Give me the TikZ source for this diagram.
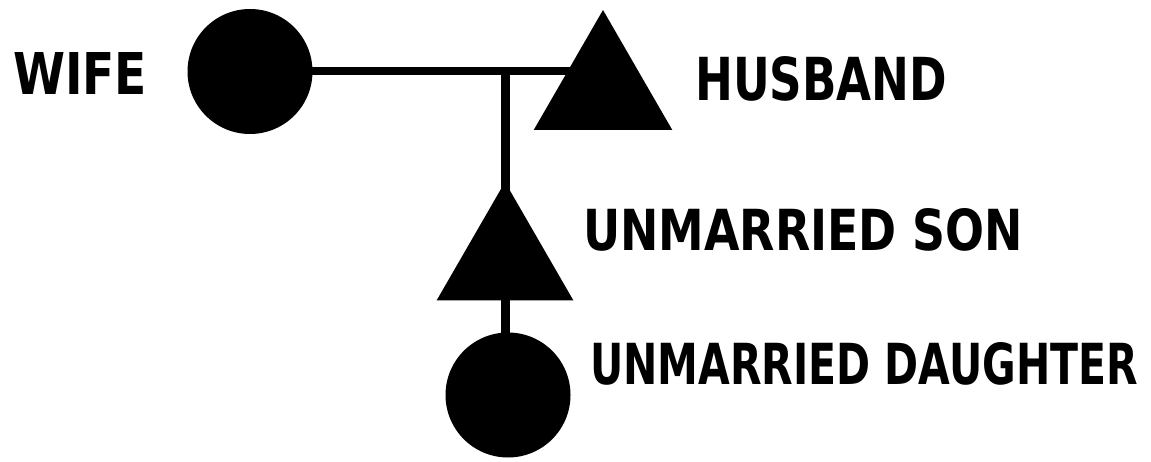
\documentclass[tikz,border=0pt]{standalone}
\usepackage{fontspec}
\usepackage{graphicx}
\setmainfont{DejaVu Sans}
\usetikzlibrary{shapes.geometric}
\tikzset{
  female/.style={circle, fill=black, inner sep=0pt, minimum size=125pt},
  male/.style={regular polygon, regular polygon sides=3, fill=black, inner sep=0pt, minimum size=#1},
  tie/.style={draw=black, line width=#1},
  lbl/.style={anchor=south west, inner sep=0pt, font=\bfseries},
}
\newcommand{\lab}[3]{\resizebox{#1pt}{#2pt}{#3}}
\begin{document}
\begin{tikzpicture}[x=1pt, y=-1pt]
  \useasboundingbox[fill=white] (0,0) rectangle (1151,462);
  % members
  \node[female] (wife) at (250,71.5) {};
  \node[male=160pt] (husband) at (603,90) {};
  \node[male=158pt] (son) at (505,261) {};
  \node[female] (daughter) at (508,395) {};
  % connectors
  \coordinate (tee) at (wife.center -| son.center);
  \draw[tie=8pt] (wife.center) -- (wife.center -| husband.center);
  \draw[tie=9pt] (tee) -- (son.center);
  \draw[tie=9pt] (son.center) -- (son.center |- daughter.center);
  % labels
  \node[lbl] (lwife) at (13,95) {\lab{134}{42}{WIFE}};
  \node[lbl] (lhusband) at (695,102) {\lab{252}{44}{HUSBAND}};
  \node[lbl] (lson) at (583,252) {\lab{440}{42}{UNMARRIED SON}};
  \node[lbl] (ldaughter) at (590,386) {\lab{548}{42}{UNMARRIED DAUGHTER}};
\end{tikzpicture}
\end{document}
